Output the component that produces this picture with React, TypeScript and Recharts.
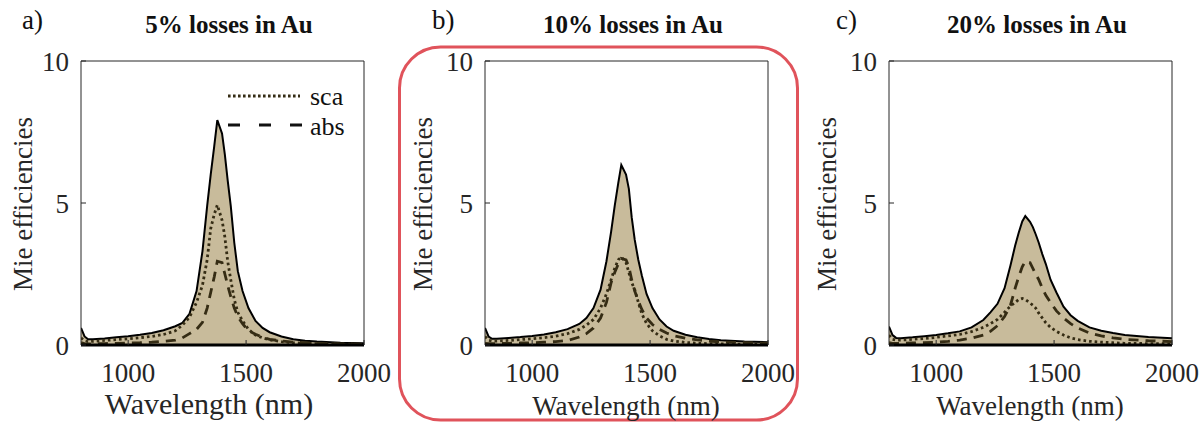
import React from 'react'
import { Area, ComposedChart, Legend, Line, ReferenceArea, ReferenceLine, XAxis, YAxis } from 'recharts'

// wavelength grid (nm), shared by all three panels
const wavelength = [800, 815, 830, 850, 900, 950, 1000, 1050, 1100, 1150, 1200, 1230, 1260, 1290, 1315, 1335, 1350, 1365, 1378, 1398, 1410, 1422, 1435, 1450, 1465, 1485, 1510, 1540, 1570, 1600, 1650, 1700, 1750, 1800, 1900, 2000]

// a) 5% losses
const extA = [0.6, 0.3, 0.2, 0.2, 0.23, 0.27, 0.31, 0.36, 0.42, 0.52, 0.66, 0.78, 1.1, 1.9, 3.3, 4.9, 6.0, 7.0, 7.92, 7.45, 6.7, 5.8, 4.9, 3.6, 2.6, 1.9, 1.3, 0.85, 0.6, 0.45, 0.3, 0.2, 0.15, 0.12, 0.08, 0.06]
const scaA = [0.25, 0.15, 0.12, 0.13, 0.16, 0.19, 0.22, 0.26, 0.3, 0.37, 0.5, 0.7, 0.98, 1.5, 2.1, 3.0, 4.1, 4.6, 4.93, 4.4, 3.8, 2.95, 2.3, 1.6, 1.15, 0.85, 0.55, 0.35, 0.25, 0.18, 0.12, 0.08, 0.06, 0.05, 0.03, 0.02]
const absA = [0.08, 0.05, 0.04, 0.04, 0.05, 0.06, 0.07, 0.08, 0.1, 0.13, 0.17, 0.25, 0.4, 0.55, 0.8, 1.3, 1.85, 2.4, 2.95, 2.9, 2.5, 2.1, 1.7, 1.3, 1.0, 0.75, 0.5, 0.38, 0.27, 0.2, 0.14, 0.1, 0.08, 0.06, 0.04, 0.03]

// b) 10% losses
const extB = [0.6, 0.3, 0.22, 0.22, 0.25, 0.28, 0.32, 0.37, 0.45, 0.56, 0.74, 0.95, 1.3, 1.95, 2.95, 4.0, 4.9, 5.7, 6.34, 6.0, 5.5, 4.5, 3.7, 3.0, 2.45, 1.8, 1.3, 0.9, 0.65, 0.5, 0.36, 0.27, 0.21, 0.17, 0.12, 0.1]
const scaB = [0.3, 0.17, 0.14, 0.14, 0.16, 0.19, 0.22, 0.26, 0.31, 0.4, 0.55, 0.7, 0.9, 1.3, 1.8, 2.3, 2.7, 3.0, 3.1, 2.9, 2.55, 2.2, 1.95, 1.5, 1.1, 0.76, 0.5, 0.32, 0.2, 0.14, 0.09, 0.06, 0.05, 0.04, 0.03, 0.02]
const absB = [0.06, 0.05, 0.05, 0.05, 0.06, 0.07, 0.08, 0.1, 0.12, 0.16, 0.28, 0.4, 0.6, 0.95, 1.5, 2.2, 2.55, 2.85, 3.05, 3.0, 2.75, 2.3, 1.9, 1.55, 1.25, 0.95, 0.72, 0.55, 0.42, 0.33, 0.24, 0.18, 0.14, 0.11, 0.08, 0.06]

// c) 20% losses
const extC = [0.65, 0.35, 0.25, 0.24, 0.27, 0.31, 0.35, 0.41, 0.48, 0.62, 0.88, 1.15, 1.45, 2.0, 2.8, 3.5, 3.95, 4.35, 4.54, 4.34, 4.15, 3.9, 3.6, 3.2, 2.85, 2.3, 1.85, 1.35, 1.05, 0.85, 0.62, 0.5, 0.42, 0.35, 0.28, 0.24]
const scaC = [0.35, 0.2, 0.17, 0.17, 0.2, 0.23, 0.27, 0.32, 0.37, 0.47, 0.62, 0.75, 0.9, 1.15, 1.37, 1.5, 1.6, 1.64, 1.6, 1.48, 1.4, 1.3, 1.12, 0.95, 0.78, 0.62, 0.48, 0.35, 0.25, 0.19, 0.13, 0.1, 0.08, 0.06, 0.05, 0.04]
const absC = [0.08, 0.06, 0.06, 0.06, 0.07, 0.08, 0.1, 0.13, 0.17, 0.24, 0.35, 0.48, 0.68, 1.0, 1.4, 2.0, 2.4, 2.75, 2.95, 2.9, 2.7, 2.5, 2.3, 2.0, 1.75, 1.5, 1.2, 0.95, 0.75, 0.6, 0.42, 0.32, 0.25, 0.2, 0.15, 0.12]

const xTicks = [1000, 1500, 2000]
const yTicks = [0, 5, 10]

const FONT = '"Liberation Serif", "Times New Roman", "DejaVu Serif", serif'
const FILL = '#c8bb9b'
const DARK = '#352c14'
const AXIS = '#262626'

const panels = [
  { id: 'a', title: '5% losses in Au', ext: extA, sca: scaA, abs: absA, left: 0, legend: true, xLabelX: 209, xLabelSize: 30, xLabelY: 414 },
  { id: 'b', title: '10% losses in Au', ext: extB, sca: scaB, abs: absB, left: 404, legend: false, xLabelX: 626, xLabelSize: 27, xLabelY: 415 },
  { id: 'c', title: '20% losses in Au', ext: extC, sca: scaC, abs: absC, left: 808, legend: false, xLabelX: 1030, xLabelSize: 27, xLabelY: 415 },
]

const tickStyle = { fontSize: 27, fill: AXIS, fontFamily: FONT }

const LegendBox = () => (
  <svg width={130} height={60} style={{ overflow: 'visible' }}>
    <line x1={2} x2={74} y1={12} y2={12} stroke={DARK} strokeWidth={3} strokeDasharray="2.6 2.4" />
    <text x={84} y={21} fontSize={26} style={{ fontFamily: FONT }} fill="#111">sca</text>
    <line x1={2} x2={77} y1={41} y2={41} stroke="#111" strokeWidth={3} strokeDasharray="12 19" />
    <text x={84} y={51} fontSize={26} style={{ fontFamily: FONT }} fill="#111">abs</text>
  </svg>
)

function Panel({ p }: { p: typeof panels[number] }) {
  const rows = wavelength.map((w, i) => ({ w, ext: p.ext[i], sca: p.sca[i], abs: p.abs[i] }))
  return (
    <div style={{ position: 'absolute', left: p.left, top: 0 }}>
      <ComposedChart width={396} height={423} data={rows} margin={{ top: 61, right: 32, bottom: 0, left: 0 }}
        style={{ fontFamily: FONT }}>
        <XAxis xAxisId="b" dataKey="w" type="number" domain={[800, 2000]} ticks={xTicks} interval={0}
          height={78} axisLine={false} tickSize={-5} tickMargin={23} tickLine={{ stroke: AXIS }} tick={tickStyle} allowDataOverflow />
        <XAxis xAxisId="t" orientation="top" dataKey="w" type="number" domain={[800, 2000]} ticks={[1000, 1500]}
          height={0} axisLine={false} tick={false} tickSize={-5} tickLine={{ stroke: AXIS }} />
        <YAxis yAxisId="l" type="number" domain={[0, 10]} ticks={yTicks} interval={0} width={81}
          axisLine={false} tickSize={-5} tickMargin={17} tickLine={{ stroke: AXIS }} tick={tickStyle} />
        <YAxis yAxisId="r" orientation="right" type="number" domain={[0, 10]} ticks={[5]} width={0}
          axisLine={false} tick={false} tickSize={-5} tickLine={{ stroke: AXIS }} />
        <Area xAxisId="b" yAxisId="l" dataKey="ext" type="linear" fill={FILL} fillOpacity={1} stroke="#000"
          strokeWidth={2} dot={false} activeDot={false} isAnimationActive={false} />
        <Line xAxisId="b" yAxisId="l" dataKey="sca" type="linear" stroke={DARK} strokeWidth={2.8}
          strokeDasharray="2.6 3" dot={false} activeDot={false} isAnimationActive={false} />
        <Line xAxisId="b" yAxisId="l" dataKey="abs" type="linear" stroke={DARK} strokeWidth={2.8}
          strokeDasharray="10 7" dot={false} activeDot={false} isAnimationActive={false} />
        <ReferenceLine xAxisId="b" yAxisId="l" y={0} stroke="#000" strokeWidth={3} />
        <ReferenceArea xAxisId="b" yAxisId="l" x1={800} x2={2000} y1={0} y2={10} fill="none" fillOpacity={0}
          stroke={AXIS} strokeWidth={1} strokeOpacity={1} />
        {p.legend && (
          <Legend layout="horizontal" verticalAlign="middle" align="center" content={<LegendBox />}
            wrapperStyle={{ left: 226, top: 84, width: 130, height: 60 }} />
        )}
      </ComposedChart>
    </div>
  )
}

export default function App() {
  return (
    <div style={{ position: 'absolute', left: 0, top: 0, width: 1204, height: 423, background: '#fff', overflow: 'hidden' }}>
      {panels.map((p) => <Panel key={p.id} p={p} />)}
      <svg width={1204} height={423} style={{ position: 'absolute', left: 0, top: 0, pointerEvents: 'none', fontFamily: FONT }}>
        <rect x={399.5} y={47} width={398} height={373} rx={41} ry={41} fill="none" stroke="#e0535b" strokeWidth={3} />
        {panels.map((p) => {
          const yl = p.left + 32 + (p.id === 'a' ? 0 : -4)
          return (
            <g key={p.id} fill="#111">
              <text x={p.left + 22 + (p.id === 'a' ? 0 : 6)} y={29} fontSize={27}>{p.id + ')'}</text>
              <text x={p.left + 229} y={33} fontSize={25} fontWeight="bold" textAnchor="middle">{p.title}</text>
              <text x={yl} y={204} fontSize={27} textAnchor="middle" transform={`rotate(-90 ${yl} 204)`} fill={AXIS}>Mie efficiencies</text>
              <text x={p.xLabelX} y={p.xLabelY} fontSize={p.xLabelSize} textAnchor="middle" fill={AXIS}>Wavelength (nm)</text>
            </g>
          )
        })}
      </svg>
    </div>
  )
}
